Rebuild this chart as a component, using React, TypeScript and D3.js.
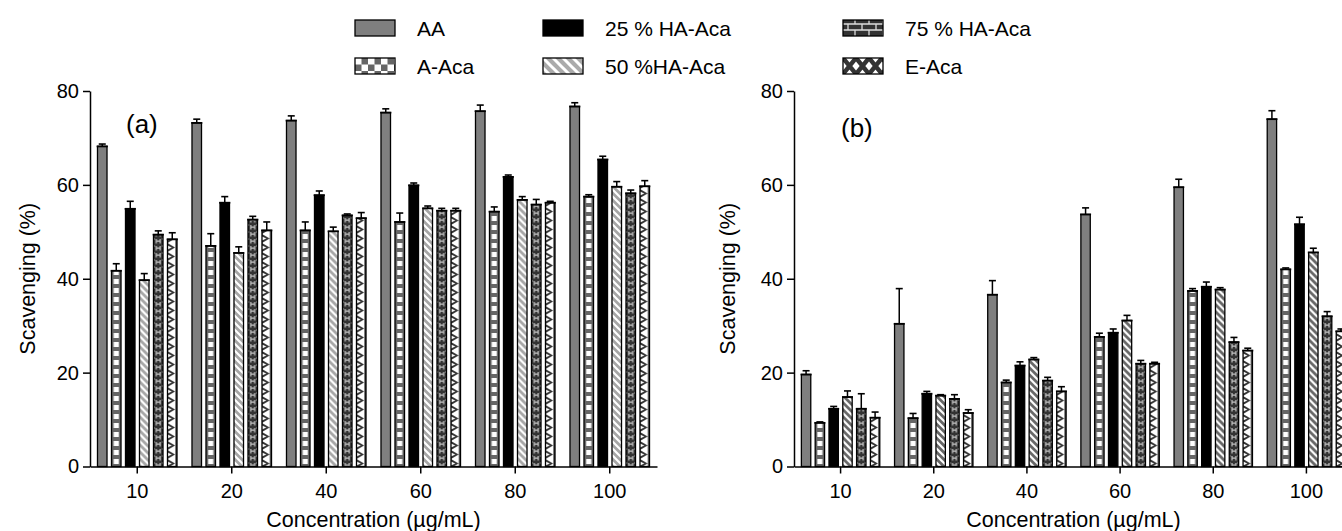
import React, { useEffect, useRef } from "react";
import * as d3 from "d3";

const categories = ["10", "20", "40", "60", "80", "100"];
const seriesNames = ["AA", "A-Aca", "25 % HA-Aca", "50 %HA-Aca", "75 % HA-Aca", "E-Aca"];
const yTicks = [0, 20, 40, 60, 80];

// panel (a) means, one array per series, ordered like categories
const aAA = [68.2, 73.2, 73.7, 75.4, 75.7, 76.7];
const aAAca = [41.7, 47.0, 50.3, 52.1, 54.3, 57.5];
const a25 = [54.9, 56.2, 57.8, 59.9, 61.7, 65.4];
const a50 = [39.7, 45.5, 50.1, 55.0, 56.8, 59.6];
const a75 = [49.4, 52.6, 53.5, 54.5, 55.8, 58.2];
const aE = [48.4, 50.3, 52.9, 54.5, 56.2, 59.7];
// panel (a) error bars
const aAAErr = [0.5, 0.8, 1.0, 0.8, 1.3, 0.8];
const aAAcaErr = [1.5, 2.6, 1.8, 1.9, 1.0, 0.4];
const a25Err = [1.6, 1.3, 0.9, 0.5, 0.4, 0.7];
const a50Err = [1.4, 1.3, 0.9, 0.5, 0.7, 1.1];
const a75Err = [0.8, 0.7, 0.3, 0.5, 1.1, 0.7];
const aEErr = [1.4, 1.8, 1.2, 0.5, 0.3, 1.2];

// panel (b) means
const bAA = [19.6, 30.4, 36.6, 53.7, 59.5, 74.0];
const bAAca = [9.3, 10.3, 17.9, 27.6, 37.4, 42.0];
const b25 = [12.3, 15.5, 21.5, 28.5, 38.3, 51.6];
const b50 = [14.8, 15.1, 22.8, 31.1, 37.7, 45.6];
const b75 = [12.3, 14.4, 18.3, 21.9, 26.5, 32.0];
const bE = [10.4, 11.4, 16.0, 21.9, 24.7, 28.8];
// panel (b) error bars
const bAAErr = [0.8, 7.5, 3.0, 1.4, 1.7, 1.8];
const bAAcaErr = [0.2, 1.0, 0.5, 0.8, 0.5, 0.3];
const b25Err = [0.5, 0.5, 0.8, 0.8, 1.0, 1.5];
const b50Err = [1.3, 0.2, 0.4, 1.1, 0.4, 0.9];
const b75Err = [3.2, 0.9, 0.7, 0.7, 1.0, 1.0];
const bEErr = [1.2, 0.7, 1.0, 0.3, 0.5, 0.5];

const FONT = "'Liberation Sans', Arial, Helvetica, sans-serif";
const W = 1342;
const H = 531;
const yTop = 91;
const yBottom = 466.5;

function addPatterns(defs, id, bw, stripeBg) {
    // A-Aca: gray with white blocks
    const p1 = defs.append("pattern").attr("id", `${id}-p1`)
        .attr("patternUnits", "userSpaceOnUse").attr("width", bw).attr("height", 9);
    p1.append("rect").attr("width", bw).attr("height", 9).attr("fill", "#666");
    p1.append("rect").attr("x", 2.2).attr("y", 0).attr("width", bw - 4.4).attr("height", 5).attr("fill", "#fff");

    // 50 %: diagonal white stripes
    const p3 = defs.append("pattern").attr("id", `${id}-p3`)
        .attr("patternUnits", "userSpaceOnUse").attr("width", 7).attr("height", 7);
    p3.append("rect").attr("width", 7).attr("height", 7).attr("fill", stripeBg);
    p3.append("path").attr("d", "M-2,5 L2,9 M0,0 L7,7 M5,-2 L9,2")
        .attr("stroke", "#fff").attr("stroke-width", 2.2);

    // 75 %: dark with light "H" marks
    const p4 = defs.append("pattern").attr("id", `${id}-p4`)
        .attr("patternUnits", "userSpaceOnUse").attr("width", bw).attr("height", 7);
    p4.append("rect").attr("width", bw).attr("height", 7).attr("fill", "#333");
    p4.append("path")
        .attr("d", `M2.8,1 V5.5 M${bw - 2.8},1 V5.5 M2.8,3.2 H${bw - 2.8}`)
        .attr("stroke", "#c4c4c4").attr("stroke-width", 1.2).attr("fill", "none");
    p4.append("path").attr("d", `M0.6,0 V2 M${bw - 0.6},0 V2`)
        .attr("stroke", "#aaa").attr("stroke-width", 1);

    // E-Aca: dark chevrons on white
    const p5 = defs.append("pattern").attr("id", `${id}-p5`)
        .attr("patternUnits", "userSpaceOnUse").attr("width", bw).attr("height", 9);
    p5.append("rect").attr("width", bw).attr("height", 9).attr("fill", "#fff");
    p5.append("path")
        .attr("d", `M0,0 L${bw * 0.8},4.5 L0,9 L0,6.5 L${bw * 0.45},4.5 L0,2.5 Z M${bw},0 L${bw - 1.6},0 L${bw - 1.6},9 L${bw},9 Z`)
        .attr("fill", "#333");
}

function drawPanel(svg, defs, opts) {
    const { id, x0, x1, values, errors, label, labelX, labelY, titleX, stripeBg } = opts;

    const x = d3.scaleBand().domain(categories).range([x0, x1]).padding(0);
    const xi = d3.scaleBand().domain(seriesNames).range([0, x.bandwidth()])
        .paddingInner(0.32).paddingOuter(0.535);
    const y = d3.scaleLinear().domain([0, 80]).range([yBottom, yTop]);
    const bw = xi.bandwidth();

    addPatterns(defs, id, bw, stripeBg);
    const fills = ["#7f7f7f", `url(#${id}-p1)`, "#000", `url(#${id}-p3)`, `url(#${id}-p4)`, `url(#${id}-p5)`];

    const g = svg.append("g");

    categories.forEach((c, ci) => {
        seriesNames.forEach((s, si) => {
            const v = values[si][ci];
            const e = errors[si][ci];
            const bar = g.append("g").attr("transform", `translate(${x(c) + xi(s)},0)`);
            bar.append("rect")
                .attr("x", 0).attr("y", y(v))
                .attr("width", bw).attr("height", yBottom - y(v))
                .attr("fill", fills[si])
                .attr("stroke", "#000").attr("stroke-width", 1.3);
            // error bar
            bar.append("line").attr("x1", -0.8).attr("x2", bw + 0.8)
                .attr("y1", y(v)).attr("y2", y(v)).attr("stroke", "#000").attr("stroke-width", 1.8);
            bar.append("line").attr("x1", bw / 2).attr("x2", bw / 2)
                .attr("y1", y(v)).attr("y2", y(v + e)).attr("stroke", "#000").attr("stroke-width", 1.5);
            bar.append("line").attr("x1", bw / 2 - 3.5).attr("x2", bw / 2 + 3.5)
                .attr("y1", y(v + e)).attr("y2", y(v + e)).attr("stroke", "#000").attr("stroke-width", 1.6);
        });
    });

    // axes
    const yAxis = svg.append("g").attr("transform", `translate(${x0},0)`)
        .call(d3.axisLeft(y).tickValues(yTicks).tickSize(7).tickSizeOuter(0).tickPadding(4));
    const xAxis = svg.append("g").attr("transform", `translate(0,${yBottom})`)
        .call(d3.axisBottom(x).tickSize(7).tickSizeOuter(0).tickPadding(10));
    [yAxis, xAxis].forEach(a => {
        a.attr("font-family", FONT).attr("font-size", 20);
        a.select(".domain").attr("stroke", "#000").attr("stroke-width", 1.5);
        a.selectAll(".tick line").attr("stroke", "#000").attr("stroke-width", 1.5);
        a.selectAll(".tick text").attr("fill", "#000");
    });

    svg.append("text")
        .attr("x", (x0 + x1) / 2).attr("y", 527)
        .attr("text-anchor", "middle")
        .attr("font-family", FONT).attr("font-size", 21.5)
        .text("Concentration (µg/mL)");

    svg.append("text")
        .attr("transform", `translate(${titleX},${(yTop + yBottom) / 2}) rotate(-90)`)
        .attr("dy", "0.35em")
        .attr("text-anchor", "middle")
        .attr("font-family", FONT).attr("font-size", 21.5)
        .text("Scavenging (%)");

    svg.append("text")
        .attr("x", labelX).attr("y", labelY)
        .attr("font-family", FONT).attr("font-size", 26)
        .text(label);
}

function drawLegend(svg, defs) {
    // legend-only patterns
    const chk = defs.append("pattern").attr("id", "lg-chk")
        .attr("patternUnits", "userSpaceOnUse").attr("width", 13).attr("height", 13);
    chk.append("rect").attr("width", 13).attr("height", 13).attr("fill", "#fff");
    chk.append("rect").attr("x", 6.5).attr("width", 6.5).attr("height", 6.5).attr("fill", "#666");
    chk.append("rect").attr("y", 6.5).attr("width", 6.5).attr("height", 6.5).attr("fill", "#666");

    const dia = defs.append("pattern").attr("id", "lg-dia")
        .attr("patternUnits", "userSpaceOnUse").attr("width", 10).attr("height", 10);
    dia.append("rect").attr("width", 10).attr("height", 10).attr("fill", "#aaa");
    dia.append("path").attr("d", "M-3,7 L3,13 M0,0 L10,10 M7,-3 L13,3")
        .attr("stroke", "#fff").attr("stroke-width", 3);

    const brick = defs.append("pattern").attr("id", "lg-brick")
        .attr("patternUnits", "userSpaceOnUse").attr("width", 14).attr("height", 14);
    brick.append("rect").attr("width", 14).attr("height", 14).attr("fill", "#333");
    brick.append("path").attr("d", "M0,4 H14 M0,10 H14 M5,4 V10 M12,-1 V4 M12,10 V15")
        .attr("stroke", "#ddd").attr("stroke-width", 1.3);

    const xx = defs.append("pattern").attr("id", "lg-x")
        .attr("patternUnits", "userSpaceOnUse").attr("width", 13).attr("height", 16);
    xx.append("rect").attr("width", 13).attr("height", 16).attr("fill", "#fff");
    xx.append("path").attr("d", "M0,0 L13,16 M13,0 L0,16")
        .attr("stroke", "#333").attr("stroke-width", 4.5);

    const legendFills = ["#7f7f7f", "url(#lg-chk)", "#000", "url(#lg-dia)", "url(#lg-brick)", "url(#lg-x)"];
    const colX = [355, 543, 843];
    const rowY = [20, 58];

    seriesNames.forEach((s, i) => {
        const col = Math.floor(i / 2);
        const row = i % 2;
        const g = svg.append("g").attr("transform", `translate(${colX[col]},${rowY[row]})`);
        g.append("rect").attr("width", 40).attr("height", 16)
            .attr("fill", legendFills[i]).attr("stroke", "#000").attr("stroke-width", 1.3);
        g.append("text").attr("x", 62).attr("y", 15.5)
            .attr("font-family", FONT).attr("font-size", 21)
            .text(s);
    });
}

export default function App() {
    const ref = useRef(null);

    useEffect(() => {
        const svg = d3.select(ref.current);
        svg.selectAll("*").remove();
        const defs = svg.append("defs");

        drawLegend(svg, defs);

        drawPanel(svg, defs, {
            id: "pa", x0: 90, x1: 657,
            values: [aAA, aAAca, a25, a50, a75, aE],
            errors: [aAAErr, aAAcaErr, a25Err, a50Err, a75Err, aEErr],
            label: "(a)", labelX: 126, labelY: 133, titleX: 27,
            stripeBg: "#a6a6a6",
        });

        drawPanel(svg, defs, {
            id: "pb", x0: 794, x1: 1353,
            values: [bAA, bAAca, b25, b50, b75, bE],
            errors: [bAAErr, bAAcaErr, b25Err, b50Err, b75Err, bEErr],
            label: "(b)", labelX: 841, labelY: 137, titleX: 727,
            stripeBg: "#666",
        });
    }, []);

    return (
        <svg ref={ref} width={W} height={H}
            style={{ position: "absolute", left: 0, top: 0, background: "#fff" }} />
    );
}
